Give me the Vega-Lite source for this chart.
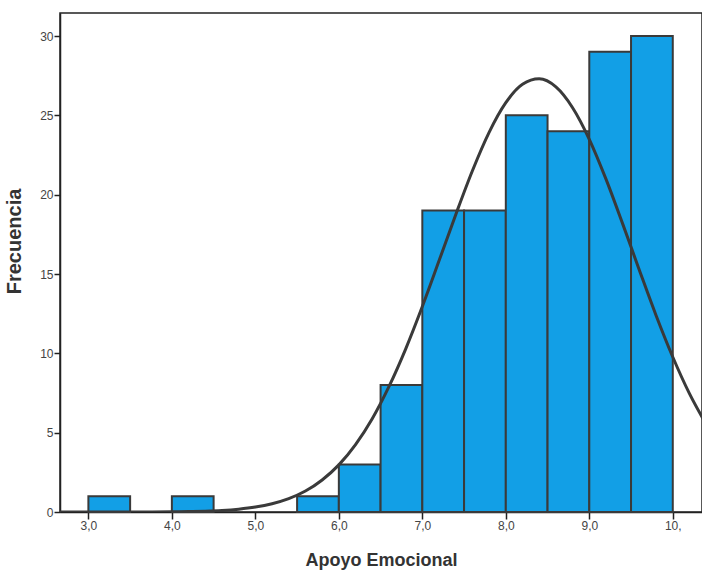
{
  "$schema": "https://vega.github.io/schema/vega-lite/v6.json",
  "width": 642,
  "height": 499,
  "autosize": {"type": "none"},
  "padding": {"left": 60, "top": 13, "right": 0, "bottom": 67},
  "background": "white",
  "config": {
    "view": {"stroke": "#222", "strokeWidth": 1.5},
    "axis": {"grid": false, "domainColor": "#222", "domainWidth": 1.5, "tickColor": "#222", "tickWidth": 1.5, "labelColor": "#444", "titleColor": "#333", "labelFont": "Liberation Sans Narrow, Liberation Sans", "titleFont": "Liberation Sans Narrow, Liberation Sans"}
  },
  "datasets": {
    "barras": [
      {"desde": 3.0, "hasta": 3.5, "frecuencia": 1},
      {"desde": 4.0, "hasta": 4.5, "frecuencia": 1},
      {"desde": 5.5, "hasta": 6.0, "frecuencia": 1},
      {"desde": 6.0, "hasta": 6.5, "frecuencia": 3},
      {"desde": 6.5, "hasta": 7.0, "frecuencia": 8},
      {"desde": 7.0, "hasta": 7.5, "frecuencia": 19},
      {"desde": 7.5, "hasta": 8.0, "frecuencia": 19},
      {"desde": 8.0, "hasta": 8.5, "frecuencia": 25},
      {"desde": 8.5, "hasta": 9.0, "frecuencia": 24},
      {"desde": 9.0, "hasta": 9.5, "frecuencia": 29},
      {"desde": 9.5, "hasta": 10.0, "frecuencia": 30}
    ],
    "curva": [
      {"x": 2.66, "y": 0.0},
      {"x": 3.5, "y": 0.0},
      {"x": 4.0, "y": 0.015},
      {"x": 4.2, "y": 0.029},
      {"x": 4.4, "y": 0.055},
      {"x": 4.6, "y": 0.10},
      {"x": 4.8, "y": 0.18},
      {"x": 5.0, "y": 0.31},
      {"x": 5.2, "y": 0.52},
      {"x": 5.4, "y": 0.84},
      {"x": 5.6, "y": 1.32},
      {"x": 5.8, "y": 2.02},
      {"x": 6.0, "y": 2.97},
      {"x": 6.2, "y": 4.25},
      {"x": 6.4, "y": 5.88},
      {"x": 6.6, "y": 7.90},
      {"x": 6.8, "y": 10.27},
      {"x": 7.0, "y": 12.95},
      {"x": 7.2, "y": 15.83},
      {"x": 7.4, "y": 18.74},
      {"x": 7.6, "y": 21.51},
      {"x": 7.8, "y": 23.93},
      {"x": 8.0, "y": 25.80},
      {"x": 8.2, "y": 26.96},
      {"x": 8.4, "y": 27.30},
      {"x": 8.6, "y": 26.79},
      {"x": 8.8, "y": 25.48},
      {"x": 9.0, "y": 23.49},
      {"x": 9.2, "y": 20.98},
      {"x": 9.4, "y": 18.16},
      {"x": 9.6, "y": 15.24},
      {"x": 9.8, "y": 12.39},
      {"x": 10.0, "y": 9.77},
      {"x": 10.2, "y": 7.46},
      {"x": 10.4, "y": 5.53}
    ]
  },
  "layer": [
    {
      "data": {"name": "barras"},
      "mark": {"type": "rect", "fill": "#129fe6", "stroke": "#3a3a3a", "strokeWidth": 2},
      "encoding": {
        "x": {
          "field": "desde", "type": "quantitative",
          "scale": {"domain": [2.66, 10.35], "nice": false, "zero": false},
          "axis": {
            "title": "Apoyo Emocional",
            "titleFontSize": 18, "titleFontWeight": "bold", "titlePadding": 20,
            "values": [3, 4, 5, 6, 7, 8, 9, 10],
            "labelExpr": "datum.value == 10 ? '10,' : replace(format(datum.value, '.1f'), '.', ',')",
            "labelFontSize": 12, "tickSize": 7, "labelPadding": 1
          }
        },
        "x2": {"field": "hasta"},
        "y": {
          "field": "frecuencia", "type": "quantitative",
          "scale": {"domain": [0, 31.45], "nice": false},
          "axis": {
            "title": "Frecuencia",
            "titleFontSize": 20, "titleFontWeight": "bold",
            "titleY": 228, "titleX": -36,
            "values": [0, 5, 10, 15, 20, 25, 30],
            "labelFontSize": 12, "tickSize": 6, "labelPadding": 1
          }
        },
        "y2": {"datum": 0}
      }
    },
    {
      "data": {"name": "curva"},
      "mark": {"type": "line", "color": "#3a3a3a", "strokeWidth": 3, "interpolate": "monotone", "clip": true},
      "encoding": {
        "x": {"field": "x", "type": "quantitative"},
        "y": {"field": "y", "type": "quantitative"}
      }
    }
  ]
}
